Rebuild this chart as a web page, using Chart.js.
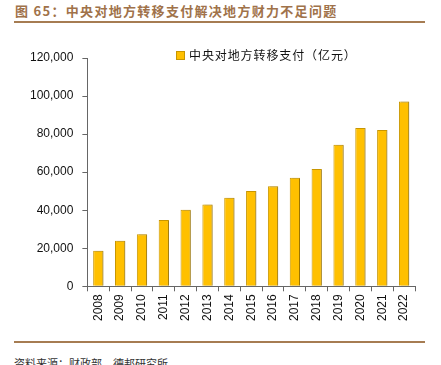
<!DOCTYPE html>
<html>
<head>
<meta charset="utf-8">
<script src="https://cdn.jsdelivr.net/npm/chart.js@4"></script>
<style>
    html, body { margin: 0; padding: 0; background: #fff; }
    body { width: 441px; height: 365px; position: relative; overflow: hidden; }
    .title {
        position: absolute; left: 15px; top: 1px;
        font: bold 13px "Noto Sans CJK SC", sans-serif;
        letter-spacing: 1.3px; color: #a0724a; white-space: nowrap;
    }
    .rule { position: absolute; left: 14px; width: 411px; height: 2px; background: #a67c52; }
    .legend {
        position: absolute; left: 176px; top: 46px;
        font: 12px "Noto Sans CJK SC", sans-serif; letter-spacing: 0.9px; color: #111;
        white-space: nowrap;
    }
    .legend i {
        display: inline-block; width: 7px; height: 7px; margin-right: 4px;
        background: #ffc000; border: 1px solid #c89600; vertical-align: 0;
    }
    .source {
        position: absolute; left: 14px; top: 355px;
        font: 11px "Noto Sans CJK SC", sans-serif; color: #333; white-space: nowrap;
    }
    .wrap { position: absolute; left: 0; top: 30px; width: 441px; height: 310px; }
</style>
</head>
<body>
<div class="title">图 65：中央对地方转移支付解决地方财力不足问题</div>
<div class="rule" style="top:21px"></div>
<div class="wrap"><canvas id="chart"></canvas></div>
<div class="legend"><i></i>中央对地方转移支付（亿元）</div>
<div class="rule" style="top:341px"></div>
<div class="source">资料来源：财政部，德邦研究所</div>

<script>
// data
const years = ['2008', '2009', '2010', '2011', '2012', '2013', '2014', '2015',
    '2016', '2017', '2018', '2019', '2020', '2021', '2022'];
const transfers = [18700, 24000, 27300, 34900, 40200, 43000, 46500, 50100,
    52600, 57000, 61600, 74400, 83200, 82200, 97100];
const yTicks = [0, 20000, 40000, 60000, 80000, 100000, 120000];

// light gray drop shadow on the right of each bar
const barShadow = {
    id: 'barShadow',
    beforeDatasetsDraw(chart) {
        const ctx = chart.ctx;
        ctx.save();
        ctx.shadowColor = 'rgba(0,0,0,0.22)';
        ctx.shadowOffsetX = 2;
        ctx.shadowOffsetY = 0;
        ctx.shadowBlur = 0;
    },
    afterDatasetsDraw(chart) {
        chart.ctx.restore();
    }
};

const tickFont = { family: '"Liberation Sans", Arial, sans-serif', size: 12 };

new Chart(document.getElementById('chart'), {
    type: 'bar',
    data: {
        labels: years,
        datasets: [{
            label: '中央对地方转移支付（亿元）',
            data: transfers,
            backgroundColor: '#ffc000',
            borderColor: '#c89600',
            borderWidth: 1,
            barPercentage: 0.47,
            categoryPercentage: 1
        }]
    },
    options: {
        responsive: true,
        maintainAspectRatio: false,
        animation: false,
        layout: { padding: { top: 28, left: 21, right: 26, bottom: 16 } },
        plugins: {
            legend: { display: false },
            tooltip: { enabled: false }
        },
        scales: {
            x: {
                grid: { display: true, drawOnChartArea: false, offset: true, tickLength: 5, color: '#666' },
                border: { display: true, color: '#666', width: 1 },
                ticks: { color: '#111', font: tickFont, minRotation: 90, maxRotation: 90, padding: 3 }
            },
            y: {
                min: 0,
                max: 120000,
                afterBuildTicks: (axis) => { axis.ticks = yTicks.map(v => ({ value: v })); },
                grid: { display: true, drawOnChartArea: false, tickLength: 5, color: '#666' },
                border: { display: true, color: '#666', width: 1 },
                ticks: {
                    color: '#111', font: tickFont, padding: 9,
                    callback: (v) => v.toLocaleString('en-US')
                }
            }
        }
    },
    plugins: [barShadow]
});
</script>
</body>
</html>
